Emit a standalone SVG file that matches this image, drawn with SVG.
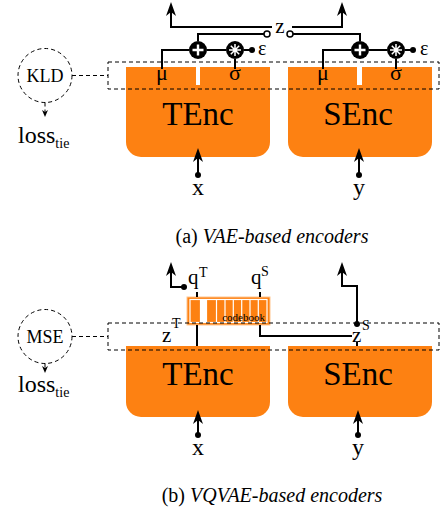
<svg xmlns="http://www.w3.org/2000/svg" width="441" height="513" viewBox="0 0 441 513">
<style>
text{font-family:"Liberation Serif","Times New Roman",serif;fill:#000}
.box{fill:#fd8112}
.ln{fill:none;stroke:#000;stroke-width:2}
.dash{fill:none;stroke:#000;stroke-width:1;stroke-dasharray:4 3}
.dot{fill:#000}
.oc{fill:#fff;stroke:#000;stroke-width:1.5}
.big{font-size:33px}
.sym{font-size:22px}
.sup{font-size:14px}
.cap{font-size:20px}
.wl{stroke:#fff;fill:none}
</style>
<defs>
<marker id="ah" viewBox="0 0 14 10" refX="4" refY="5" markerWidth="14" markerHeight="10" orient="auto" markerUnits="userSpaceOnUse"><path d="M0,0 L14,5 L0,10 L4,5 Z" fill="#000"/></marker>
<marker id="sa" viewBox="0 0 7 6" refX="2" refY="3" markerWidth="7" markerHeight="6" orient="auto" markerUnits="userSpaceOnUse"><path d="M0,0 L7,3 L0,6 L2,3 Z" fill="#000"/></marker>
<g id="plusop"><circle r="9" fill="#000"/><path d="M-5.5,0 H5.5 M0,-5.5 V5.5" class="wl" stroke-width="2.4"/></g>
<g id="mulop"><circle r="9" fill="#000"/><path d="M-6,0 H6 M0,-6 V6 M-4.2,-4.2 L4.2,4.2 M-4.2,4.2 L4.2,-4.2" class="wl" stroke-width="1.5"/></g>
</defs>

<!-- (a) VAE-based -->
<g id="a-tenc">
<path class="box" d="M126,67 H196 V85 H200 V67 H270 V142 A15,15 0 0 1 255,157 H141 A15,15 0 0 1 126,142 Z"/>
<text class="big" x="198" y="125" text-anchor="middle">TEnc</text>
<text class="sym" x="162" y="80" text-anchor="middle">μ</text>
<text class="sym" x="235" y="80" text-anchor="middle">σ</text>
</g>
<g id="a-senc">
<path class="box" d="M288,67 H357 V85 H362 V67 H432 V142 A15,15 0 0 1 417,157 H303 A15,15 0 0 1 288,142 Z"/>
<text class="big" x="358" y="125" text-anchor="middle">SEnc</text>
<text class="sym" x="323" y="80" text-anchor="middle">μ</text>
<text class="sym" x="396" y="80" text-anchor="middle">σ</text>
</g>
<g id="a-kld">
<circle class="dash" cx="45" cy="75.5" r="27"/>
<text x="45" y="82" font-size="18" text-anchor="middle">KLD</text>
</g>
<g id="a-loss"><text x="18" y="143" font-size="24">loss<tspan font-size="14" dy="5">tie</tspan></text></g>
<g id="a-ops">
<use href="#plusop" x="198" y="50"/>
<use href="#mulop" x="235" y="50"/>
<use href="#plusop" x="360" y="50"/>
<use href="#mulop" x="396" y="50"/>
</g>
<g id="a-labels">
<text x="258" y="55" font-size="20">ε</text>
<text x="420" y="55" font-size="20">ε</text>
<text x="280" y="33" font-size="21" text-anchor="middle">z</text>
<text x="198" y="195" font-size="24" text-anchor="middle">x</text>
<text x="359" y="195" font-size="24" text-anchor="middle">y</text>
</g>
<g id="a-connectors">
<rect class="dash" x="108" y="62" width="331" height="27"/>
<path class="dash" d="M72,75.5 H108"/>
<path class="dash" d="M45,102.5 V112" marker-end="url(#sa)"/>
<path class="ln" d="M162,69 V50 H189"/>
<path class="ln" d="M207,50 H226"/>
<path class="ln" d="M235,59 V69"/>
<path class="ln" d="M244,50 H252"/>
<circle class="dot" cx="252" cy="50" r="3"/>
<path class="ln" d="M198,41 V34 H264"/>
<circle class="oc" cx="267" cy="34" r="3"/>
<path class="ln" d="M272,27 H171 V12" marker-end="url(#ah)"/>
<circle class="oc" cx="290" cy="34" r="3"/>
<path class="ln" d="M293,34 H360 V41"/>
<path class="ln" d="M292,27 H342 V12" marker-end="url(#ah)"/>
<path class="ln" d="M323,69 V50 H351"/>
<path class="ln" d="M369,50 H387"/>
<path class="ln" d="M396,59 V69"/>
<path class="ln" d="M405,50 H413"/>
<circle class="dot" cx="413" cy="50" r="3"/>
<circle class="dot" cx="198" cy="175" r="3"/>
<path class="ln" d="M198,175 V158" marker-end="url(#ah)"/>
<circle class="dot" cx="359" cy="175" r="3"/>
<path class="ln" d="M359,175 V158" marker-end="url(#ah)"/>
</g>
<text class="cap" x="272" y="243" text-anchor="middle">(a) <tspan font-style="italic">VAE-based encoders</tspan></text>

<!-- (b) VQVAE-based -->
<g id="b-tenc">
<path class="box" d="M126,346 H270 V402 A15,15 0 0 1 255,417 H141 A15,15 0 0 1 126,402 Z"/>
<text class="big" x="198" y="385" text-anchor="middle">TEnc</text>
</g>
<g id="b-senc">
<path class="box" d="M288,346 H432 V402 A15,15 0 0 1 417,417 H303 A15,15 0 0 1 288,402 Z"/>
<text class="big" x="358" y="385" text-anchor="middle">SEnc</text>
</g>
<g id="b-mse">
<circle class="dash" cx="45" cy="336.5" r="27"/>
<text x="45" y="343" font-size="18" text-anchor="middle">MSE</text>
</g>
<g id="b-loss"><text x="18" y="392" font-size="24">loss<tspan font-size="14" dy="5">tie</tspan></text></g>
<g id="b-codebook">
<rect x="187" y="297" width="83" height="28" fill="#fd8112" stroke="#ffc68f" stroke-width="1"/>
<rect x="201" y="299.5" width="5" height="23" fill="#fff"/>
<rect x="190" y="299.5" width="77" height="23" class="wl" stroke-width="1.2"/>
<path class="wl" stroke-width="1.2" d="M200.5,299.5 V322.5 M206.5,299.5 V322.5 M216.5,299.5 V322.5 M225,299.5 V322.5 M233.3,299.5 V322.5 M241.7,299.5 V322.5 M250,299.5 V322.5 M258.3,299.5 V322.5"/>
<text x="265" y="321" font-size="11" text-anchor="end" fill="#222">codebook</text>
</g>
<g id="b-labels">
<text x="188" y="284" font-size="21">q</text><text x="199" y="277" class="sup">T</text>
<text x="251" y="284" font-size="21">q</text><text x="261" y="276" class="sup">S</text>
<text x="162" y="342" font-size="21">z</text><text x="172" y="328" class="sup">T</text>
<text x="352" y="342" font-size="21">z</text><text x="362" y="330" class="sup">S</text>
<text x="198" y="455" font-size="24" text-anchor="middle">x</text>
<text x="358" y="455" font-size="24" text-anchor="middle">y</text>
</g>
<g id="b-connectors">
<rect class="dash" x="108" y="323" width="331" height="27"/>
<path class="dash" d="M72,336.5 H108"/>
<path class="dash" d="M45,363.5 V368" marker-end="url(#sa)"/>
<path class="ln" d="M197,292 V297 M260,292 V297"/>
<path class="ln" d="M197,325 V346"/>
<path class="ln" d="M260,325 V336 H352"/>
<path class="ln" d="M357,342 V346"/>
<circle class="dot" cx="184" cy="287" r="3"/>
<path class="ln" d="M184,287 H171 V272" marker-end="url(#ah)"/>
<circle class="dot" cx="357" cy="324" r="3"/>
<path class="ln" d="M357,324 V286 H342 V272" marker-end="url(#ah)"/>
<circle class="dot" cx="198" cy="435" r="3"/>
<path class="ln" d="M198,435 V420" marker-end="url(#ah)"/>
<circle class="dot" cx="358" cy="435" r="3"/>
<path class="ln" d="M358,435 V420" marker-end="url(#ah)"/>
</g>
<text class="cap" x="272" y="502" text-anchor="middle">(b) <tspan font-style="italic">VQVAE-based encoders</tspan></text>
</svg>
